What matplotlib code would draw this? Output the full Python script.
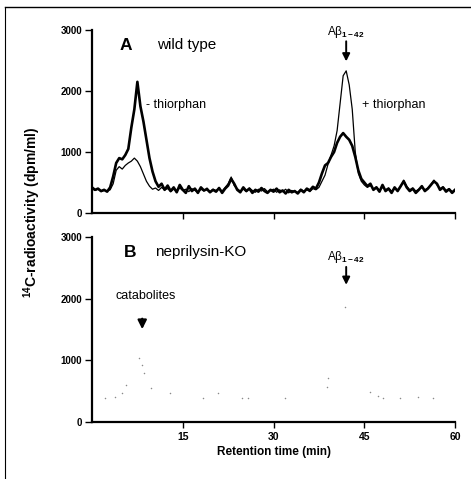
import numpy as np
import matplotlib
matplotlib.use("Agg")
import matplotlib.pyplot as plt
from matplotlib.lines import Line2D

plt.rcParams['font.family'] = ['Liberation Sans', 'DejaVu Sans']
plt.rcParams['mathtext.fontset'] = 'custom'
plt.rcParams['mathtext.rm'] = 'Liberation Sans'
plt.rcParams['mathtext.it'] = 'Liberation Sans'
plt.rcParams['mathtext.bf'] = 'Liberation Sans:bold'

# retention time grid (min), one reading every 0.5 min
t = np.arange(0, 60.5, 0.5)

# panel A, wild type, without thiorphan (thick trace)
minus_thiorphan = [
    420, 380, 400, 360, 380, 350, 420, 600, 820, 900,
    880, 950, 1050, 1400, 1700, 2150, 1750, 1500, 1200, 900,
    680, 520, 430, 480, 380, 450, 360, 420, 340, 460,
    380, 330, 440, 360, 400, 330, 420, 370, 390, 340,
    380, 350, 410, 330, 400, 450, 560, 480, 380, 340,
    420, 360, 400, 330, 380, 350, 410, 360, 330, 380,
    350, 400, 340, 370, 320, 380, 340, 360, 320, 380,
    340, 400, 370, 430, 400, 500, 650, 780, 820, 920,
    1000, 1150, 1250, 1310, 1250, 1200, 1100, 920, 700, 560,
    500, 440, 480, 380, 420, 350, 460, 360, 400, 330,
    420, 360, 440, 520, 420, 360, 400, 330, 380, 440,
    360, 400, 460, 520, 480, 380, 420, 350, 390, 330,
    380,
]

# panel A, wild type, with thiorphan (thin trace)
plus_thiorphan = [
    400, 370, 390, 350, 370, 360, 380, 480, 700, 760,
    720, 780, 820, 850, 900, 850, 760, 640, 520, 440,
    390, 410, 370, 420, 380, 400, 350, 390, 360, 410,
    370, 390, 350, 400, 370, 340, 390, 360, 410, 350,
    390, 370, 400, 360, 420, 480, 590, 450, 400, 360,
    390, 350, 410, 370, 340, 390, 360, 400, 350, 370,
    390, 340, 380, 350, 390, 330, 370, 350, 340, 390,
    360, 380, 350, 400, 380, 420, 520, 620, 800, 950,
    1100, 1350, 1800, 2250, 2330, 2100, 1700, 1000, 650, 520,
    460, 420, 450, 390, 430, 370, 420, 380, 410, 360,
    400, 380, 430, 540, 440, 380, 410, 360, 390, 420,
    380, 410, 470, 540, 460, 400, 430, 370, 400, 350,
    390,
]

# panel B, neprilysin-KO (faint dotted trace)
ko_time = [2.1, 3.8, 5.0, 5.6, 7.8, 8.2, 8.6, 9.7, 12.9, 18.4, 20.9,
           24.8, 25.8, 31.9, 38.8, 39.0, 41.8, 46.0, 47.3, 48.1, 50.9,
           53.9, 56.4]
ko_value = [390, 400, 470, 600, 1040, 925, 790, 550, 470, 390, 470,
            390, 390, 390, 570, 710, 1870, 490, 420, 390, 390,
            400, 390]

x_ticks = [15, 30, 45, 60]
y_ticks = [0, 1000, 2000, 3000]

fig = plt.figure(figsize=(4.71, 4.79), dpi=100)
axA = fig.add_axes([0.1953, 0.5553, 0.771, 0.3821])
axB = fig.add_axes([0.1953, 0.1190, 0.771, 0.3862])

for ax in (axA, axB):
    ax.set_xlim(0, 60)
    ax.set_ylim(0, 3000)
    ax.spines['top'].set_visible(False)
    ax.spines['right'].set_visible(False)
    ax.spines['left'].set_linewidth(1.6)
    ax.spines['bottom'].set_linewidth(1.6)
    ax.set_xticks(x_ticks)
    ax.set_yticks(y_ticks)
    ax.tick_params(axis='y', direction='out', length=5, width=1.0, pad=2,
                   labelsize=7)
    ax.tick_params(axis='x', direction='out', length=4, width=1.0, pad=3,
                   labelsize=7.5)
    for lab in ax.get_yticklabels() + ax.get_xticklabels():
        lab.set_fontweight('bold')

axA.set_xticklabels([])

# panel A
axA.plot(t, plus_thiorphan, color='black', lw=0.9)
axA.plot(t, minus_thiorphan, color='black', lw=1.9)
axA.text(4.6, 2750, 'A', fontsize=12.5, fontweight='bold', va='center')
axA.text(10.8, 2750, 'wild type', fontsize=11, va='center')
axA.text(9.0, 1770, '- thiorphan', fontsize=9, va='center')
axA.text(44.6, 1770, '+ thiorphan', fontsize=9, va='center')
axA.text(42.0, 2960, 'A\u03b2$_{\\mathbf{1-42}}$', fontsize=8.5,
         ha='center', va='center', clip_on=False)
axA.annotate('', xy=(42.0, 2440), xytext=(42.0, 2860),
             arrowprops=dict(arrowstyle='-|>', color='black', lw=1.4,
                             mutation_scale=11))

# panel B
axB.scatter(ko_time, ko_value, s=1.2, color='#8a8a8a', lw=0)
axB.text(5.3, 2750, 'B', fontsize=12.5, fontweight='bold', va='center')
axB.text(10.5, 2750, 'neprilysin-KO', fontsize=11, va='center')
axB.text(8.9, 2050, 'catabolites', fontsize=9, ha='center', va='center')
axB.annotate('', xy=(8.3, 1460), xytext=(8.3, 1720),
             arrowprops=dict(arrowstyle='-|>', color='black', lw=1.6,
                             mutation_scale=13))
axB.text(42.0, 2680, 'A\u03b2$_{\\mathbf{1-42}}$', fontsize=8.5,
         ha='center', va='center')
axB.annotate('', xy=(42.0, 2180), xytext=(42.0, 2560),
             arrowprops=dict(arrowstyle='-|>', color='black', lw=1.4,
                             mutation_scale=11))
axB.set_xlabel('Retention time (min)', fontsize=8.5, fontweight='bold',
               labelpad=3)

fig.text(0.068, 0.556, '$^{\\mathbf{14}}$C-radioactivity (dpm/ml)',
         rotation=90, fontsize=10, fontweight='bold',
         ha='center', va='center')

# scanned page frame
fig.add_artist(Line2D([0.011, 1.0], [0.985, 0.985], color='black', lw=1.0,
                      transform=fig.transFigure))
fig.add_artist(Line2D([0.011, 0.011], [0.0, 0.985], color='black', lw=0.8,
                      transform=fig.transFigure))

fig.savefig('out.png', dpi=100)
